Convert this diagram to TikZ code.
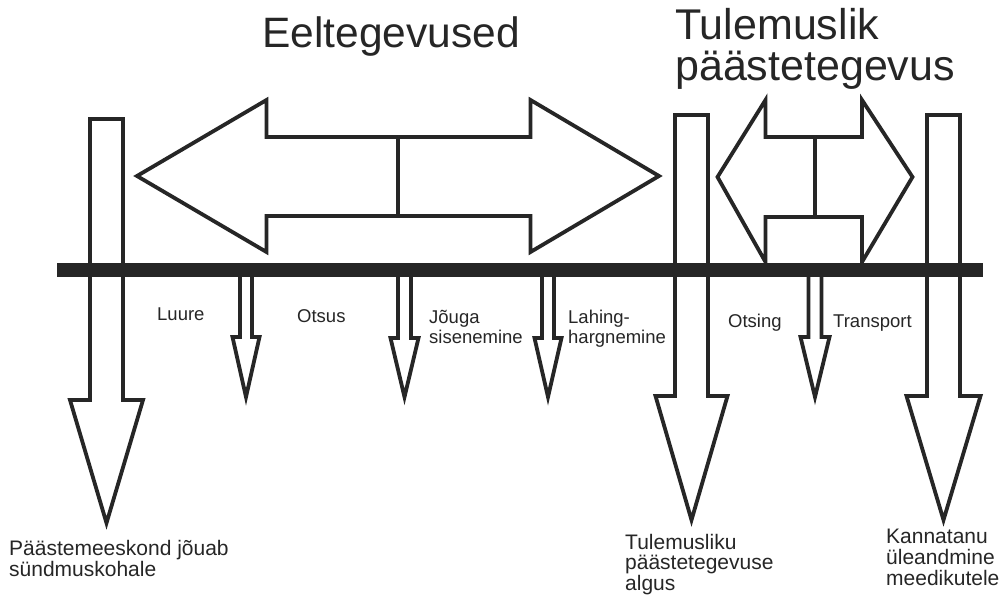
\documentclass[tikz,border=0pt]{standalone}
\usepackage{fontspec}
\setmainfont{Liberation Sans}
\definecolor{ink}{RGB}{38,38,38}
\newcommand{\dnarr}[7]{% name, cx, top, hw, shoulder, hh, tip
  \draw[blockarr] ({#2-#4},#3) coordinate (#1-tl) -- ({#2-#4},#5) -- ({#2-#6},#5) -- (#2,#7) coordinate (#1-tip) -- ({#2+#6},#5) -- ({#2+#4},#5) -- ({#2+#4},#3) -- cycle;}
\newcommand{\lbl}[1]{\begin{tabular}[t]{@{}l@{}}#1\end{tabular}}
\begin{document}
\begin{tikzpicture}[x=1pt,y=-1pt,
  blockarr/.style={draw=ink,line width=3.8pt,fill=white,line join=miter},
  smalltxt/.style={inner sep=0pt,anchor=base west,text=ink,font=\fontsize{18.5}{20}\selectfont},
  bottxt/.style={inner sep=0pt,anchor=base west,text=ink,font=\fontsize{21}{20}\selectfont},
  titletxt/.style={inner sep=0pt,anchor=base west,text=ink,font=\fontsize{43}{38}\selectfont}]
\useasboundingbox[fill=white] (0,0) rectangle (1001,596);
% big double arrow (Eeltegevused)
\draw[blockarr] (137,176) coordinate (ee-l) -- (266.5,100) -- (266.5,137) -- (530.5,137) -- (530.5,100) -- (659,176) coordinate (ee-r) -- (530.5,252) -- (530.5,216) -- (266.5,216) -- (266.5,252) -- cycle;
\draw[blockarr] (398,137) coordinate (ee-mt) -- (398,216) coordinate (ee-mb);
% small double arrow (Tulemuslik paastetegevus)
\draw[blockarr] (717.5,177) coordinate (tp-l) -- (765.5,100) -- (765.5,137) -- (862,137) -- (862,100) -- (912.5,177) coordinate (tp-r) -- (862,262) -- (862,217) -- (765.5,217) -- (765.5,262) -- cycle;
\draw[blockarr] (815,137) coordinate (tp-mt) -- (815,217) coordinate (tp-mb);
% big down arrows
\dnarr{A}{106.5}{119}{16.5}{400}{36.5}{523}
\dnarr{B}{691.5}{115}{16.5}{396}{36}{520}
\dnarr{C}{943.5}{115}{16.5}{396}{37}{520}
% small down arrows
\dnarr{s1}{246}{268}{6}{337}{13.5}{397}
\dnarr{s2}{404.5}{268}{6.5}{338}{14}{397}
\dnarr{s3}{548}{268}{6}{338}{13.5}{397}
\dnarr{s4}{815}{268}{6.5}{337}{14.5}{397}
% timeline bar
\fill[ink] (57,263) rectangle (983,277);
% titles
\node[titletxt,font=\fontsize{42.5}{38}\selectfont] (t1) at (262,48) {Eeltegevused};
\node[titletxt] (t2) at (675,40) {\lbl{Tulemuslik\\päästetegevus}};
% phase labels
\node[smalltxt] (l1) at (157,320) {Luure};
\node[smalltxt] (l2) at (297,322) {Otsus};
\node[smalltxt] (l3) at (429,323) {\lbl{Jõuga\\sisenemine}};
\node[smalltxt] (l4) at (568,323) {\lbl{Lahing-\\hargnemine}};
\node[smalltxt] (l5) at (728,327) {Otsing};
\node[smalltxt] (l6) at (833,327) {Transport};
% bottom labels
\node[bottxt] (b1) at (9,555) {\lbl{Päästemeeskond jõuab\\sündmuskohale}};
\node[bottxt] (b2) at (625,549) {\lbl{Tulemusliku\\päästetegevuse\\algus}};
\node[bottxt] (b3) at (886,543) {\lbl{Kannatanu\\üleandmine\\meedikutele}};
\end{tikzpicture}
\end{document}
